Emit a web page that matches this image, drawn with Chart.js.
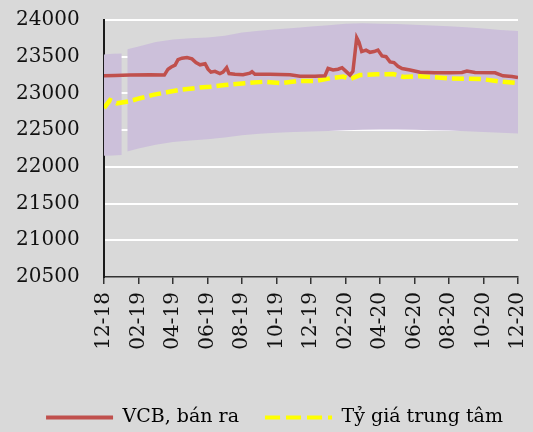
<!DOCTYPE html>
<html lang="vi">
<head>
  <meta charset="UTF-8" />
  <title>VCB, bán ra – Tỷ giá trung tâm</title>
  <script src="https://cdn.jsdelivr.net/npm/chart.js"></script>
  <style>
    html, body {
      margin: 0;
      padding: 0;
      background: #d9d9d9;
    }
    canvas {
      display: block;
    }
  </style>
</head>
<body>

<canvas id="rateChart" width="533" height="432"></canvas>

<script>
  // tick labels on the x axis (every 2 months, Dec 2018 .. Dec 2020)
  const xTickLabels = ['12-18', '02-19', '04-19', '06-19', '08-19', '10-19', '12-19',
                       '02-20', '04-20', '06-20', '08-20', '10-20', '12-20'];

  // months counted from Dec 2018
  const vcbMonths = [0, 0.64, 1.5, 2.67, 3.5, 3.71, 3.9, 4.12, 4.29, 4.52, 4.81, 5.1, 5.33, 5.57, 5.86,
    6.03, 6.2, 6.43, 6.72, 6.9, 7.11, 7.25, 7.59, 8.06, 8.46, 8.58, 8.75, 9.62, 10.78, 11.36,
    12.23, 12.81, 12.99, 13.28, 13.57, 13.8, 14.03, 14.26, 14.43, 14.65, 14.78, 14.94, 15.19,
    15.42, 15.65, 15.88, 16.12, 16.35, 16.58, 16.81, 17.04, 17.28, 17.74, 18.32, 19.19, 20.06,
    20.75, 21.04, 21.51, 22.67, 23.13, 23.65, 24];
  const vcbSell = [23240, 23245, 23250, 23255, 23250, 23330, 23360, 23385, 23460, 23480, 23490, 23470, 23420, 23390, 23405,
    23330, 23290, 23300, 23270, 23290, 23350, 23270, 23260, 23255, 23275, 23295, 23260, 23260, 23255, 23235,
    23235, 23240, 23340, 23320, 23330, 23350, 23300, 23250, 23300, 23760, 23700, 23570, 23590,
    23560, 23570, 23590, 23510, 23500, 23430, 23420, 23370, 23340, 23320, 23290, 23280, 23280,
    23285, 23305, 23285, 23280, 23240, 23230, 23215];

  const centralMonths = [0, 0.35, 0.74, 1.5, 2.09, 2.84, 3.63, 4.4, 5.57, 6.14, 7.0, 8.17, 9.33, 10.3,
    11.25, 12.23, 13.1, 13.87, 14.26, 14.84, 15.8, 16.77, 17.35, 18.32, 19.94, 21.9, 23.06, 24];
  const centralRate = [22800, 22910, 22865, 22895, 22935, 22980, 23015, 23050, 23080, 23090, 23115, 23140, 23160, 23140,
    23170, 23170, 23205, 23230, 23195, 23250, 23260, 23265, 23225, 23235, 23205, 23195, 23160, 23140];

  // trading band (upper / lower), gap around Tet 2019
  const bandMonths = [0, 0.5, 1.03, 1.2, 1.35, 2, 3, 4, 5, 6, 7, 8, 9, 10, 11, 12, 13, 14, 15, 16, 17, 18, 19, 20, 21, 22, 23, 24];
  const bandUpper = [23530, 23540, 23545, null, 23600, 23640, 23700, 23735, 23750, 23760, 23785, 23830, 23855, 23875,
    23890, 23910, 23930, 23950, 23955, 23950, 23945, 23935, 23925, 23915, 23900, 23885, 23865, 23850];
  const bandLower = [22150, 22155, 22160, null, 22210, 22250, 22300, 22340, 22360, 22375, 22400, 22430, 22450, 22465,
    22475, 22480, 22490, 22500, 22505, 22510, 22510, 22505, 22500, 22495, 22485, 22475, 22465, 22455];

  const toPoints = (xs, ys) => xs.map((x, i) => ({ x: x, y: ys[i] }));

  const FONT = "'DejaVu Serif', 'Liberation Serif', serif";

  const ctx = document.getElementById('rateChart').getContext('2d');
  const chart = new Chart(ctx, {
    type: 'line',
    data: {
      datasets: [
        {
          label: 'VCB, bán ra',
          data: toPoints(vcbMonths, vcbSell),
          borderColor: '#c0504d',
          borderWidth: 3.5,
          pointRadius: 0,
          tension: 0,
          fill: false,
          order: 1
        },
        {
          label: 'Tỷ giá trung tâm',
          data: toPoints(centralMonths, centralRate),
          borderColor: '#ffff00',
          borderWidth: 4.5,
          borderDash: [12, 5],
          pointRadius: 0,
          tension: 0,
          fill: false,
          order: 2
        },
        {
          label: 'upper',
          data: toPoints(bandMonths, bandUpper),
          borderWidth: 0,
          borderColor: 'rgba(0,0,0,0)',
          backgroundColor: '#ccc0da',
          pointRadius: 0,
          tension: 0,
          spanGaps: false,
          fill: '+1',
          order: 3
        },
        {
          label: 'lower',
          data: toPoints(bandMonths, bandLower),
          borderWidth: 0,
          borderColor: 'rgba(0,0,0,0)',
          pointRadius: 0,
          tension: 0,
          spanGaps: false,
          fill: false,
          order: 4
        }
      ]
    },
    options: {
      responsive: false,
      animation: false,
      devicePixelRatio: 1,
      layout: {
        padding: { left: 16, right: 0, top: 20, bottom: -5 }
      },
      scales: {
        x: {
          type: 'linear',
          min: 0,
          max: 24,
          afterFit: (scale) => {
            scale.height = 105;
            scale.paddingLeft = 0;
            scale.paddingRight = 15;
          },
          border: { display: true, color: '#333', width: 1.5 },
          grid: {
            display: true,
            drawOnChartArea: false,
            drawTicks: true,
            tickLength: 7,
            color: '#333',
            lineWidth: 1.5
          },
          ticks: {
            stepSize: 2,
            autoSkip: false,
            minRotation: 90,
            maxRotation: 90,
            padding: 8,
            color: '#111',
            font: { family: FONT, size: 20 },
            callback: (v) => xTickLabels[v / 2]
          }
        },
        y: {
          min: 20500,
          max: 24000,
          afterFit: (scale) => {
            scale.width = 88;
            scale.paddingTop = 10;
            scale.paddingBottom = 10;
          },
          border: { display: true, color: '#1a1a1a', width: 2 },
          grid: {
            drawTicks: false,
            lineWidth: 2,
            color: (c) => c.tick && c.tick.value === 20500 ? 'rgba(0,0,0,0)' : '#ffffff'
          },
          ticks: {
            stepSize: 500,
            crossAlign: 'far',
            color: '#111',
            font: { family: FONT, size: 20 },
            callback: (v) => String(v)
          }
        }
      },
      plugins: {
        tooltip: { enabled: false },
        legend: {
          position: 'bottom',
          labels: {
            usePointStyle: true,
            pointStyleWidth: 67,
            padding: 26,
            color: '#111',
            font: { family: FONT, size: 19 },
            generateLabels: (c) => c.data.datasets.slice(0, 2).map((ds, i) => ({
              text: ds.label,
              strokeStyle: ds.borderColor,
              fillStyle: ds.borderColor,
              lineWidth: 4,
              lineDash: i === 1 ? [15, 6] : [],
              pointStyle: 'line',
              hidden: false,
              datasetIndex: i
            }))
          }
        }
      }
    }
  });
</script>

</body>
</html>
